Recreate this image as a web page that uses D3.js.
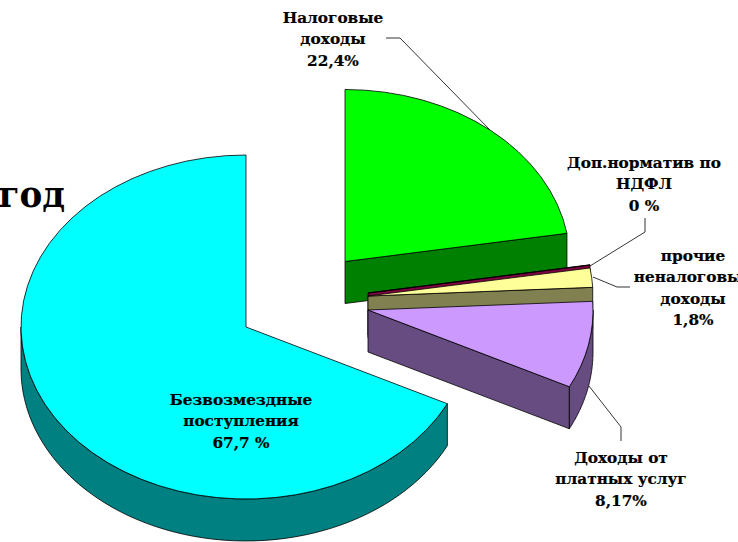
<!doctype html>
<html lang="ru">
<head>
<meta charset="utf-8">
<title>Структура доходов</title>
<script src="https://d3js.org/d3.v7.min.js"></script>
<style>
  html, body { margin: 0; background: #fff; overflow: hidden; }
  text { font-family: "DejaVu Serif", serif; font-weight: bold; fill: #000; }
</style>
</head>
<body>
<svg id="chart" width="738" height="542"></svg>
<script>
// data (the "0 %" slice still has a hair of width in the original)
var categories = ["Налоговые доходы", "Доп.норматив по НДФЛ", "прочие неналоговые доходы", "Доходы от платных услуг", "Безвозмездные поступления"];
var values = [22.4, 0.02, 1.8, 8.17, 67.7];
var labelLines = [
  ["Налоговые", "доходы", "22,4%"],
  ["Доп.норматив по", "НДФЛ", "0 %"],
  ["прочие", "неналоговые", "доходы", "1,8%"],
  ["Доходы от", "платных услуг", "8,17%"],
  ["Безвозмездные", "поступления", "67,7 %"]
];

// look of each slice
var topColors = ["#00ff00", "#ff0080", "#ffff99", "#cc99ff", "#00ffff"];
var wallColors = ["#008000", "#800040", "#808050", "#664c80", "#008080"];
// exploded apex of each slice
var apexes = [[345, 261.5], [368, 293], [368, 296], [368, 310], [246, 327]];
var labelPos = [[333, 23], [644, 168], [693, 261], [621, 463], [241, 405]];
var labelStep = 21.3;
var leaders = [
  [[386, 38], [400, 38], [490, 130]],
  [[645, 218], [645, 232], [590, 266]],
  [[630, 287], [617, 287], [593, 277]],
  [[621, 441], [621, 427], [589, 386]]
];

var rx = 225, ry = 172, depth = 42;

var svg = d3.select("#chart");

var pie = d3.pie().sort(null).value(function(d) { return d; });
var arcs = pie(values);
var arc = d3.arc().innerRadius(0).outerRadius(ry);
var line = d3.line();

function rim(apex, a, dy) {
  return [apex[0] + rx * Math.sin(a), apex[1] - ry * Math.cos(a) + (dy || 0)];
}

function radialWall(apex, a) {
  return line([
    apex,
    rim(apex, a),
    rim(apex, a, depth),
    [apex[0], apex[1] + depth]
  ]) + "Z";
}

function rimWall(apex, a0, a1) {
  var steps = d3.range(0, 61).map(function(i) { return a0 + (a1 - a0) * i / 60; });
  var upper = steps.map(function(a) { return rim(apex, a); });
  var lower = steps.slice().reverse().map(function(a) { return rim(apex, a, depth); });
  return line(upper.concat(lower)) + "Z";
}

// painter's order, same as the slice order
arcs.forEach(function(d, i) {
  var apex = apexes[i];
  var g = svg.append("g").attr("class", "slice");
  var walls = [];
  if (d.endAngle < Math.PI) walls.push(radialWall(apex, d.endAngle));
  if (d.startAngle > Math.PI) walls.push(radialWall(apex, d.startAngle));
  var r0 = Math.max(d.startAngle, Math.PI / 2), r1 = Math.min(d.endAngle, Math.PI * 1.5);
  if (r1 > r0) walls.push(rimWall(apex, r0, r1));

  g.selectAll("path.wall").data(walls).enter().append("path")
    .attr("class", "wall")
    .attr("d", function(w) { return w; })
    .attr("fill", wallColors[i])
    .attr("stroke", "#000")
    .attr("stroke-width", 0.8)
    .attr("stroke-linejoin", "round");

  g.append("path")
    .attr("d", arc(d))
    .attr("transform", "translate(" + apex[0] + "," + apex[1] + ") scale(" + (rx / ry) + ",1)")
    .attr("fill", topColors[i])
    .attr("stroke", "#000")
    .attr("stroke-width", 0.8)
    .attr("vector-effect", "non-scaling-stroke");
});

// leader lines
svg.selectAll("path.leader").data(leaders).enter().append("path")
  .attr("class", "leader")
  .attr("d", function(d) { return line(d); })
  .attr("fill", "none")
  .attr("stroke", "#000")
  .attr("stroke-width", 0.8);

// labels
labelLines.forEach(function(lines, i) {
  var t = svg.append("text")
    .attr("text-anchor", "middle")
    .attr("font-size", 15.3)
    .attr("stroke", "#000")
    .attr("stroke-width", 0.2);
  t.selectAll("tspan").data(lines).enter().append("tspan")
    .attr("x", labelPos[i][0])
    .attr("y", function(d, j) { return labelPos[i][1] + j * labelStep; })
    .text(function(d) { return d; });
});

// title, cut by the left edge in the original
svg.append("text")
  .attr("x", 65)
  .attr("y", 207)
  .attr("text-anchor", "end")
  .attr("font-size", 38)
  .style("font-stretch", "condensed")
  .text("год");
</script>
</body>
</html>
